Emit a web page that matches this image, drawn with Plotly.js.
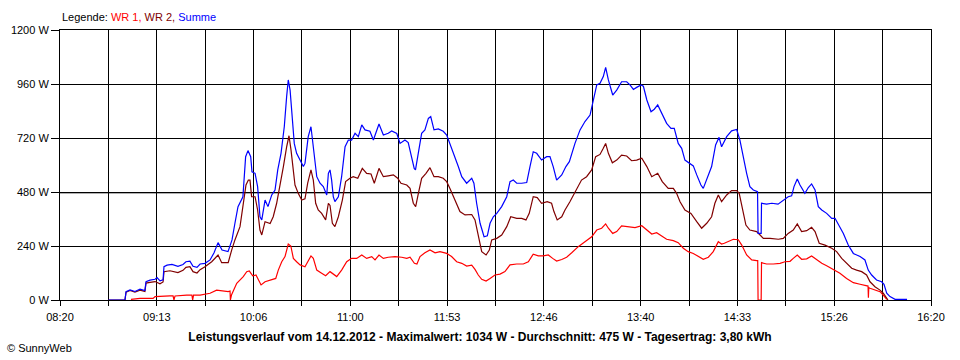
<!DOCTYPE html>
<html>
<head>
<meta charset="utf-8">
<script src="https://cdn.plot.ly/plotly-3.0.1.min.js"></script>
<style>
  html, body { margin: 0; padding: 0; background: #ffffff; }
  #chart { width: 960px; height: 360px; }
</style>
</head>
<body>
<div id="chart"></div>
<script>
// Time in minutes since midnight, power in W
const sumTime = [526.6,535.8,536.4,538.6,541.3,544.1,546.8,547.4,549.6,552.4,553.5,555.1,556.8,557.3,559.0,561.7,565.0,567.8,569.4,571.6,573.3,575.5,577.2,579.9,582.7,584.9,587.1,589.3,592.6,594.8,596.4,598.1,600.8,602.3,603.6,605.1,605.8,607.5,608.9,610.2,611.2,613.0,614.6,616.7,618.5,620.0,621.8,623.6,624.9,625.8,626.8,628.0,629.1,630.4,632.3,634.1,635.0,636.8,638.3,640.1,641.5,643.3,645.1,647.0,647.9,648.8,649.7,650.6,651.5,653.4,655.2,657.1,658.9,660.7,662.6,664.4,666.3,668.1,670.8,672.7,673.6,675.8,678.2,680.9,682.8,685.6,687.4,690.1,691.9,693.8,695.2,695.9,697.5,699.3,701.1,703.0,704.3,706.1,708.5,711.2,713.1,714.9,717.7,719.5,721.4,724.1,726.9,728.1,729.6,731.5,733.7,735.5,737.0,738.8,740.7,743.4,746.2,748.0,749.8,751.7,754.4,757.2,759.0,760.8,762.7,765.4,768.2,770.0,771.8,773.7,776.5,778.8,780.7,783.8,786.6,789.3,792.1,793.9,795.8,797.6,799.4,800.7,802.2,804.6,806.8,809.5,812.3,814.1,816.0,817.8,820.2,821.5,823.4,825.7,827.5,829.4,831.6,834.3,836.7,838.5,840.7,842.6,844.4,847.2,849.0,850.9,853.2,854.5,856.4,859.1,861.3,863.2,864.6,867.4,870.1,872.9,874.7,876.5,878.4,880.2,882.1,884.4,884.7,886.4,886.6,889.4,892.3,895.7,898.6,901.3,903.2,904.5,906.3,907.8,910.5,912.4,914.2,916.1,917.9,919.8,922.5,925.3,927.1,929.8,931.7,934.4,937.2,940.9,943.6,945.4,947.3,950.0,952.8,954.1,955.6,957.4,960.2,966.8];
const sumWatts = [0,0,37,45,38,48,42,81,88,92,100,85,90,148,155,158,150,158,170,173,150,145,160,163,178,210,255,222,215,267,341,415,459,637,664,637,570,563,504,370,356,444,415,467,489,578,652,770,904,978,933,800,696,652,622,593,607,726,770,637,548,519,504,467,563,578,533,459,437,459,548,681,711,711,741,726,778,756,750,711,730,782,733,741,751,740,696,711,700,637,585,578,652,741,756,807,815,756,760,750,733,696,630,593,548,519,541,519,430,341,281,285,341,370,385,415,459,526,533,519,519,522,593,659,652,622,637,637,593,533,556,593,615,696,756,793,822,889,956,963,993,1034,978,911,933,970,970,956,936,945,956,950,889,837,848,867,830,785,763,763,696,674,622,604,596,556,511,496,533,593,689,723,681,726,752,758,711,637,563,504,489,481,296,296,430,426,430,426,444,459,463,504,538,511,474,500,516,489,415,400,385,363,363,326,296,244,207,193,178,133,111,89,81,70,30,15,3,3];

const wr2Time = [526.6,535.8,536.4,538.6,541.3,544.1,546.8,547.4,549.6,552.4,555.1,556.8,557.3,560.6,565.0,567.8,569.4,571.6,573.3,575.5,577.2,579.9,583.6,587.1,589.1,592.7,594.6,596.4,599.2,601.0,602.5,603.8,604.7,605.6,607.5,608.9,610.2,611.2,613.0,615.8,617.5,619.4,621.2,623.1,624.9,626.2,627.3,628.6,629.5,631.3,633.2,635.0,636.5,638.3,639.6,640.9,642.3,644.2,646.4,647.9,648.8,650.1,651.5,653.4,655.6,657.4,659.8,661.6,664.1,666.6,669.0,671.4,673.2,675.8,678.2,680.9,683.7,686.1,687.9,691.1,692.9,694.7,696.0,697.5,699.3,701.7,703.9,706.1,708.5,711.2,713.1,714.9,717.7,720.4,723.2,726.9,728.7,730.2,732.4,734.8,736.6,737.9,740.7,743.4,746.2,748.4,751.7,754.4,756.8,758.6,760.8,763.0,765.4,768.5,770.9,772.2,774.0,776.5,778.3,781.0,784.7,787.4,790.2,793.0,795.2,797.6,799.4,800.7,802.2,804.4,806.8,809.5,812.3,815.0,817.8,820.6,823.4,826.1,829.4,831.9,835.2,838.0,839.8,841.7,844.4,847.7,850.9,853.6,856.4,859.1,860.9,862.8,864.6,867.4,870.1,872.9,874.3,876.2,878.0,880.2,882.1,883.9,885.8,887.6,891.3,895.9,898.6,901.3,904.1,906.3,908.7,911.5,914.2,916.1,918.4,921.6,925.3,928.0,930.8,933.5,936.3,939.0,941.8,944.5,946.4,949.1,951.9,953.7,955.6,956.3];
const wr2Watts = [0,0,35,42,35,44,38,75,78,82,72,80,126,130,122,132,145,148,126,120,135,148,170,200,166,166,222,267,326,430,511,533,533,459,459,400,311,289,348,340,370,430,504,593,681,730,667,563,511,474,444,450,519,578,533,430,400,385,356,430,420,341,326,370,444,526,541,548,541,585,563,560,519,585,548,552,556,541,519,511,496,430,415,474,541,563,588,548,548,541,526,496,444,393,378,380,356,296,215,200,222,267,274,289,326,370,363,363,356,385,459,455,430,437,430,393,356,370,400,437,496,533,548,578,637,647,674,696,652,610,622,644,640,619,622,630,593,548,563,526,496,496,474,437,400,385,348,319,341,370,430,467,437,467,486,486,474,400,333,311,308,304,289,274,274,270,274,296,311,338,304,308,323,304,252,244,230,215,185,163,141,133,126,111,81,59,44,30,7,0];

const wr1Time = [539.1,544.1,551.3,552.4,560.6,562.3,562.8,563.4,569.8,572.7,573.1,573.6,577.2,582.7,586.3,589.3,592.7,593.7,593.9,594.5,597.4,601.0,602.9,604.3,606.2,608.0,609.8,610.8,613.0,616.7,618.9,620.3,622.2,624.0,625.8,627.2,628.6,630.4,632.3,635.0,636.8,638.3,639.6,641.5,644.2,646.4,648.8,650.6,652.5,655.2,658.0,660.7,663.5,666.3,669.0,671.8,673.6,675.8,678.2,680.9,684.6,688.3,691.1,692.9,694.2,695.3,696.7,698.4,701.1,703.9,706.7,709.4,713.1,715.8,718.6,721.4,724.1,726.9,728.7,730.5,732.4,734.8,737.0,739.7,742.5,745.2,748.0,751.7,755.3,758.1,760.8,763.6,766.3,769.1,771.5,773.7,776.5,779.2,782.0,785.6,789.3,793.0,795.8,798.5,800.7,802.2,804.6,806.8,809.5,813.2,816.9,820.6,823.4,826.1,828.8,831.6,834.3,838.0,840.7,843.5,846.2,849.0,851.8,854.5,857.3,860.0,862.8,864.6,866.1,868.3,871.1,873.8,875.7,878.4,881.2,883.9,884.5,884.7,886.4,886.6,889.4,893.1,896.8,899.5,902.3,904.1,906.3,908.7,911.5,914.2,917.0,919.8,922.5,926.2,929.8,933.5,937.2,940.9,944.6,945.3,945.5,945.7,946.4,949.1,951.9,953.7,955.6];
const wr1Watts = [3,7,7,15,18,18,0,18,22,22,0,22,22,30,44,40,37,40,0,22,74,104,126,129,107,111,81,67,81,89,96,133,170,193,249,240,185,170,156,148,178,196,185,133,119,108,126,115,104,133,170,185,185,200,185,193,178,200,185,190,193,190,185,190,178,163,160,193,210,222,210,215,207,193,170,163,151,155,136,111,92,84,96,111,115,126,156,160,160,170,204,196,196,200,185,173,180,190,210,237,259,281,311,319,338,319,296,304,329,326,322,330,311,293,299,284,270,264,255,230,215,207,193,181,190,215,259,249,252,259,270,268,244,200,178,175,175,0,0,166,160,160,163,170,172,185,200,181,183,196,178,163,152,136,119,96,77,70,62,62,10,55,52,44,37,22,3];

const average = 475;
const yTickValues = [0, 240, 480, 720, 960, 1200];
const yTickLabels = ["0 W", "240 W", "480 W", "720 W", "960 W", "1200 W"];
const xTickLabels = ["08:20", "09:13", "10:06", "11:00", "11:53", "12:46", "13:40", "14:33", "15:26", "16:20"];
const seriesNames = ["WR 1", "WR 2", "Summe"];
const seriesColors = ["#ff0000", "#800000", "#0000ff"];
const titleText = "Leistungsverlauf vom 14.12.2012 - Maximalwert: 1034 W - Durchschnitt: 475 W - Tagesertrag: 3,80 kWh";

// axis: 08:20 .. 16:20, gridlines every 26.67 min, labels every other
const xStart = 500, xEnd = 980;
const step = (xEnd - xStart) / 18;
const xTickVals = [], xTickText = [];
for (let i = 0; i <= 18; i++) {
  xTickVals.push(xStart + i * step);
  xTickText.push(i % 2 === 0 ? xTickLabels[i / 2] : "");
}

const FONT = "Liberation Sans, Arial, sans-serif";

const traces = [
  {x: wr1Time, y: wr1Watts, name: seriesNames[0], color: seriesColors[0]},
  {x: wr2Time, y: wr2Watts, name: seriesNames[1], color: seriesColors[1]},
  {x: sumTime, y: sumWatts, name: seriesNames[2], color: seriesColors[2]}
].map(s => ({
  type: "scatter", mode: "lines", x: s.x, y: s.y, name: s.name,
  line: {color: s.color, width: 1.2}, hoverinfo: "skip"
}));

const legendHtml = "Legende: " +
  seriesNames.map((n, i) => '<span style="color:' + seriesColors[i] + '">' + n + (i < 2 ? ',' : '') + '</span>').join(' ');

const layout = {
  width: 960, height: 360,
  margin: {l: 60, r: 29, t: 30, b: 60, pad: 0},
  paper_bgcolor: "#ffffff", plot_bgcolor: "#ffffff",
  font: {family: FONT, size: 11, color: "#000000"},
  showlegend: false,
  title: {
    text: "<b>" + titleText + "</b>",
    font: {family: FONT, size: 12, color: "#000000"},
    xref: "container", x: 0.5, xanchor: "center",
    yref: "container", y: 1 - 337 / 360, yanchor: "middle"
  },
  xaxis: {
    range: [xStart, xEnd], tickmode: "array", tickvals: xTickVals, ticktext: xTickText,
    showgrid: true, gridcolor: "#000000", gridwidth: 1,
    showline: true, linecolor: "#000000", linewidth: 1, mirror: true,
    ticks: "outside", ticklen: 5, tickcolor: "#000000", tickwidth: 1,
    ticklabelstandoff: 2,
    zeroline: false, fixedrange: true,
    tickfont: {family: FONT, size: 11, color: "#000000"}
  },
  yaxis: {
    range: [0, 1200], tickmode: "array", tickvals: yTickValues, ticktext: yTickLabels,
    showgrid: true, gridcolor: "#000000", gridwidth: 1,
    showline: true, linecolor: "#000000", linewidth: 1, mirror: true,
    ticks: "outside", ticklen: 8, tickcolor: "#000000", tickwidth: 1,
    zeroline: false, fixedrange: true,
    tickfont: {family: FONT, size: 11, color: "#000000"}
  },
  shapes: [{
    type: "line", xref: "paper", x0: 0, x1: 1, yref: "y", y0: average, y1: average,
    line: {color: "#808080", width: 1}, layer: "below"
  }],
  annotations: [
    {text: legendHtml, xref: "paper", x: 0, xanchor: "left",
     yref: "paper", y: 1 + 13.3 / 270, yanchor: "middle", showarrow: false,
     font: {family: FONT, size: 11, color: "#000000"}},
    {text: "© SunnyWeb", xref: "paper", x: (5 - 60) / 871, xanchor: "left",
     yref: "paper", y: (300 - 348) / 270, yanchor: "middle", showarrow: false,
     font: {family: FONT, size: 11, color: "#000000"}}
  ]
};

Plotly.newPlot("chart", traces, layout, {displayModeBar: false, staticPlot: true});
</script>
</body>
</html>
